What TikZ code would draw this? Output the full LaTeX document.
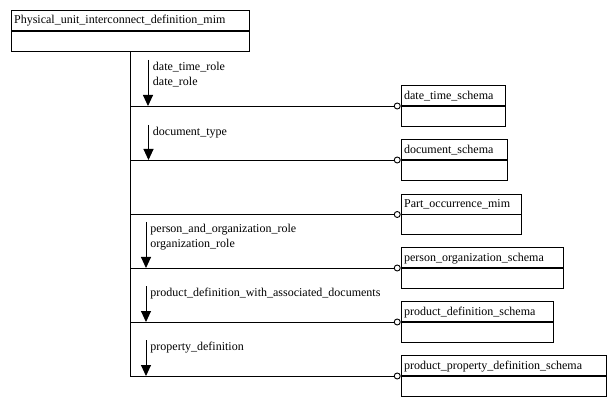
\documentclass[tikz,border=0pt]{standalone}
\usepackage{fontspec}
\setmainfont{Liberation Serif}
\usetikzlibrary{positioning}
\usetikzlibrary{arrows.meta}
\tikzset{head/.style = {draw, anchor=south west, minimum height=20pt, inner xsep=3pt, inner ysep=0pt,
    text height=9.5pt, text depth=2.5pt, text width=#1-6pt, align=left}}
\tikzset{body/.style = {draw, anchor=north west, minimum height=20pt, minimum width=#1, inner sep=0}}
\tikzset{ring/.style = {draw, fill=white, circle, inner sep=0, minimum size=6pt, anchor=east}}
\tikzset{every picture/.style={
    x=1pt, y=-1pt,
    every path/.style={line width=0.9pt},
    every node/.style={font=\fontsize{12}{15}\selectfont},
}}

\begin{document}
\begin{tikzpicture}
      \useasboundingbox (0,0) rectangle (616,406);
      \tikzset{flow/.style={-{Triangle[length=11pt,width=10pt]}},
               role/.style={anchor=north west, align=left, inner sep=0}}
      % main schema
      \node[body=238.3] (mimb) at (10.7,30.7) {};
      \node[head=238.3] (mim) at (mimb.north west) {Physical\_unit\_interconnect\_definition\_mim};
      % referenced schemas
      \node[body=104.6] (dtsb) at (400.7,106) {};
      \node[head=104.6] (dts) at (dtsb.north west) {date\_time\_schema};
      \node[body=106] (docb) at (400.7,160) {};
      \node[head=106] (doc) at (docb.north west) {document\_schema};
      \node[body=120.6] (pomb) at (400.7,214.5) {};
      \node[head=120.6] (pom) at (pomb.north west) {Part\_occurrence\_mim};
      \node[body=162.6] (posb) at (400.7,268) {};
      \node[head=162.6] (pos) at (posb.north west) {person\_organization\_schema};
      \node[body=152.6] (pdsb) at (400.7,322) {};
      \node[head=152.6] (pds) at (pdsb.north west) {product\_definition\_schema};
      \node[body=205.6] (ppdb) at (400.7,376) {};
      \node[head=205.6] (ppd) at (ppdb.north west) {product\_property\_definition\_schema};
      % circles on the schema boxes
      \node[ring] (dtsc) at (dtsb.north west) {};
      \node[ring] (docc) at (docb.north west) {};
      \node[ring] (pomc) at (pomb.north west) {};
      \node[ring] (posc) at (posb.north west) {};
      \node[ring] (pdsc) at (pdsb.north west) {};
      \node[ring] (ppdc) at (ppdb.north west) {};
      % trunk and branches
      \draw (mimb.south) -- (mimb.south |- ppdc);
      \draw (mimb.south |- dtsc) -- (dtsc);
      \draw (mimb.south |- docc) -- (docc);
      \draw (mimb.south |- pomc) -- (pomc);
      \draw (mimb.south |- posc) -- (posc);
      \draw (mimb.south |- pdsc) -- (pdsc);
      \draw (mimb.south |- ppdc) -- (ppdc);
      % reference arrows
      \coordinate (a1) at (148,60);
      \coordinate (a2) at (148.5,125);
      \coordinate (a3) at (146,222);
      \coordinate (a4) at (146,286);
      \coordinate (a5) at (146,340);
      \draw[flow] (a1) -- (a1 |- dtsc);
      \draw[flow] (a2) -- (a2 |- docc);
      \draw[flow] (a3) -- (a3 |- posc);
      \draw[flow] (a4) -- (a4 |- pdsc);
      \draw[flow] (a5) -- (a5 |- ppdc);
      \node[role] (r1) at (152.5,62) {date\_time\_role\\date\_role};
      \node[role] (r2) at (152.5,127) {document\_type};
      \node[role] (r3) at (150,224) {person\_and\_organization\_role\\organization\_role};
      \node[role] (r4) at (150,288) {product\_definition\_with\_associated\_documents};
      \node[role] (r5) at (150,342) {property\_definition};
\end{tikzpicture}
\end{document}
